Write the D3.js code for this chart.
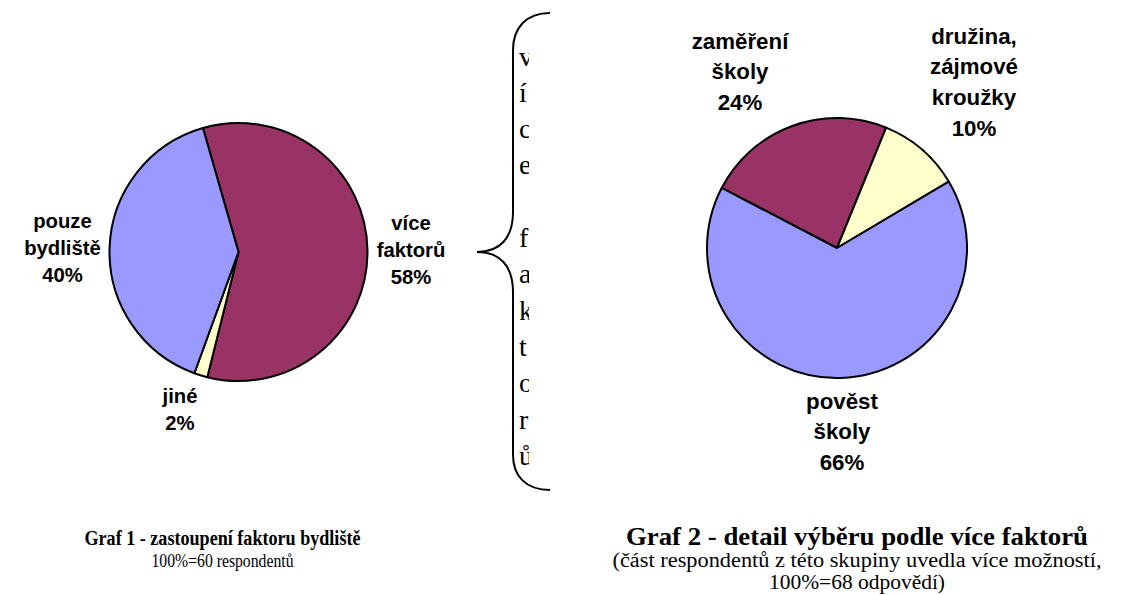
<!DOCTYPE html>
<html><head><meta charset="utf-8">
<script src="https://cdn.jsdelivr.net/npm/d3@7"></script>
<style>body{margin:0;background:#fff}svg{display:block}</style>
</head><body><svg id="c" width="1131" height="595"></svg>
<script>
// ---- data ----
const pie1Categories = ["více faktorů", "jiné", "pouze bydliště"];
const pie1Values = [35, 1, 24];            // of 60 respondents
const pie1Labels = [["více", "faktorů", "58%"], ["jiné", "2%"], ["pouze", "bydliště", "40%"]];
const pie2Categories = ["zaměření školy", "družina, zájmové kroužky", "pověst školy"];
const pie2Values = [16, 7, 45];            // of 68 answers
const pie2Labels = [["zaměření", "školy", "24%"], ["družina,", "zájmové", "kroužky", "10%"], ["pověst", "školy", "66%"]];
const braceText = "více faktorů";
const caption1 = ["Graf 1 - zastoupení faktoru bydliště", "100%=60 respondentů"];
const caption2 = ["Graf 2 - detail výběru podle více faktorů", "(část respondentů z této skupiny uvedla více možností,", "100%=68 odpovědí)"];

// ---- layout / style ----
const pie1Colors = ["#993366", "#FFFFCC", "#9999FF"];
const pie2Colors = ["#993366", "#FFFFCC", "#9999FF"];
const svg = d3.select("#c");

function drawPie(cfg) {
  const pie = d3.pie().sort(null).value(d => d)
    .startAngle(cfg.start * Math.PI / 180)
    .endAngle(cfg.start * Math.PI / 180 + 2 * Math.PI);
  const arc = d3.arc().innerRadius(0).outerRadius(cfg.r);
  const g = svg.append("g").attr("transform", `translate(${cfg.cx},${cfg.cy})`);
  g.selectAll("path").data(pie(cfg.values)).join("path")
    .attr("d", arc)
    .attr("fill", (d, i) => cfg.colors[i])
    .attr("stroke", "#000").attr("stroke-width", 2).attr("stroke-linejoin", "round");
  cfg.labels.forEach((lines, i) => {
    const p = cfg.labelPos[i];
    const t = svg.append("text")
      .attr("text-anchor", "middle")
      .attr("font-family", "'Liberation Sans', Arial, sans-serif")
      .attr("font-weight", "bold")
      .attr("font-size", cfg.fs).attr("fill", "#000");
    lines.forEach((l, j) => t.append("tspan").attr("x", p[0]).attr("y", p[1] + j * cfg.lh).text(l));
  });
}

drawPie({cx: 238.5, cy: 252, r: 129, start: -16, values: pie1Values, colors: pie1Colors,
  labels: pie1Labels, fs: 20.3, lh: 27,
  labelPos: [[411, 229.5], [180, 403], [62.5, 228]]});
drawPie({cx: 837, cy: 248, r: 130, start: -62.5, values: pie2Values, colors: pie2Colors,
  labels: pie2Labels, fs: 22.3, lh: 30.7,
  labelPos: [[740, 48.5], [974, 43.5], [842, 408.5]]});

// brace
const bp = d3.path();
bp.moveTo(550, 13);
bp.bezierCurveTo(526, 13, 513, 28, 513, 50);
bp.lineTo(513, 212);
bp.bezierCurveTo(513, 238, 500, 252, 477, 252);
bp.bezierCurveTo(500, 252, 513, 266, 513, 292);
bp.lineTo(513, 455);
bp.bezierCurveTo(513, 476, 526, 490, 550, 490);
svg.append("path").attr("d", bp.toString()).attr("fill", "none")
  .attr("stroke", "#000").attr("stroke-width", 2);

svg.append("clipPath").attr("id", "bclip").append("rect")
  .attr("x", 505).attr("y", 20).attr("width", 24).attr("height", 470);
const bt = svg.append("g").attr("clip-path", "url(#bclip)");
Array.from(braceText).forEach((ch, i) => {
  if (ch === " ") return;
  bt.append("text").attr("x", 519).attr("y", 65.5 + i * 36.3)
    .attr("font-family", "'Liberation Serif', 'Times New Roman', serif")
    .attr("font-size", 28).attr("fill", "#000").text(ch);
});

// captions: per line [baseline y, font size, target width]
function caption(lines, cx, specs) {
  lines.forEach((l, j) => {
    const s = specs[j];
    svg.append("text").attr("x", cx).attr("y", s[0])
      .attr("text-anchor", "middle")
      .attr("font-family", "'Liberation Serif', 'Times New Roman', serif")
      .attr("font-weight", j === 0 ? "bold" : "normal")
      .attr("font-size", s[1]).attr("fill", "#000")
      .attr("textLength", s[2]).attr("lengthAdjust", "spacingAndGlyphs")
      .text(l);
  });
}
caption(caption1, 222.5, [[545, 20.5, 276], [567, 19, 142]]);
caption(caption2, 857, [[545, 25.5, 462], [567, 20.5, 489], [589, 20.5, 176]]);
</script></body></html>
